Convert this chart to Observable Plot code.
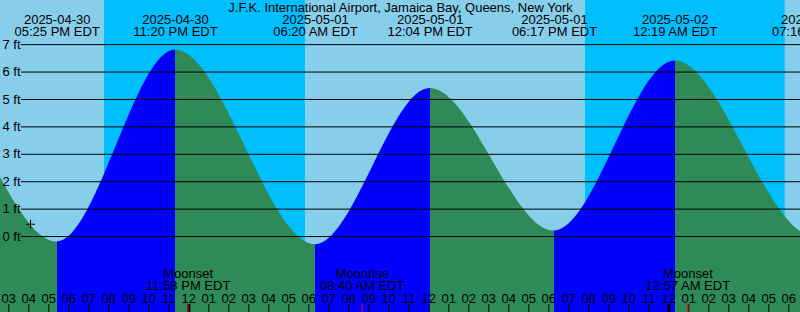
<!DOCTYPE html>
<html>
<head>
<meta charset="utf-8">
<script src="https://cdn.jsdelivr.net/npm/d3@7"></script>
<script src="https://cdn.jsdelivr.net/npm/@observablehq/plot@0.6"></script>
<style>
  html, body { margin: 0; padding: 0; background: #ffffff; }
  svg { display: block; }
</style>
</head>
<body>
<div id="chart"></div>
<script>
// ---------- data ----------
const title = "J.F.K. International Airport, Jamaica Bay, Queens, New York";

// tide extremes (local time, EDT) and heights in feet
// (first and last entries lie just outside the visible window)
const tideTimes = [
  "2025-04-30 04:55",
  "2025-04-30 10:55",
  "2025-04-30 17:25",
  "2025-04-30 23:20",
  "2025-05-01 06:20",
  "2025-05-01 12:04",
  "2025-05-01 18:17",
  "2025-05-02 00:19",
  "2025-05-02 07:16",
  "2025-05-02 13:00"
];
const tideHeights = [0.0, 5.6, -0.2, 6.8, -0.3, 5.4, 0.2, 6.4, 0.0, 5.2];

// night (sunset -> sunrise)
const nightStarts = ["2025-04-30 19:47", "2025-05-01 19:50"];
const nightEnds   = ["2025-05-01 05:50", "2025-05-02 05:49"];

// moon events
const moonNames = ["Moonset", "Moonrise", "Moonset"];
const moonTimes = ["2025-04-30 23:58", "2025-05-01 08:40", "2025-05-02 00:57"];

// current-time marker
const markerTime = "2025-04-30 16:05";
const markerHeight = 0.45;

// axis values
const feetTicks = [0, 1, 2, 3, 4, 5, 6, 7];
const viewStart = "2025-04-30 14:35";
const viewEnd   = "2025-05-02 06:35";
const heightMin = -2.77;
const heightMax = 8.61;

// ---------- styling ----------
const DAY = "#87ceeb", NIGHT = "#00bfff", RISING = "#0000ff", FALLING = "#2e8b57";
const FONT = "'Liberation Sans', Arial, Helvetica, sans-serif";
const W = 800, H = 312;

const parseTime = d3.timeParse("%Y-%m-%d %H:%M");
const start = parseTime(viewStart), end = parseTime(viewEnd);
const tides = tideTimes.map((t, i) => ({time: parseTime(t), height: tideHeights[i]}));
const nights = nightStarts.map((s, i) => ({start: parseTime(s), end: parseTime(nightEnds[i])}));
const moons = moonTimes.map((t, i) => ({time: parseTime(t), name: moonNames[i]}));
const marker = [{time: parseTime(markerTime), height: markerHeight}];
const hours = d3.timeHour.range(d3.timeHour.ceil(start), end);
const midnights = hours.filter(d => d.getHours() === 0);
const fmtDate = d3.timeFormat("%Y-%m-%d");
const fmtTime = d3.timeFormat("%I:%M %p EDT");
const fmtHour = d3.timeFormat("%I");
const lastLabel = d3.timeHour.offset(end, 1);
const tideLabels = tides.filter(d => d.time >= start && d.time <= lastLabel);

const plot = Plot.plot({
  width: W, height: H,
  margin: 0,
  x: {type: "time", domain: [start, end], axis: null},
  y: {domain: [heightMin, heightMax], axis: null},
  style: {fontFamily: FONT, background: DAY, color: "#000"},
  marks: [
    Plot.frame({fill: DAY, stroke: "none"}),
    Plot.rect(nights, {x1: "start", x2: "end", fill: NIGHT, clip: true}),
    Plot.areaY(tides, {x: "time", y1: heightMin, y2: "height", curve: "monotone-x", fill: "url(#tideFill)", clip: true}),
    Plot.ruleY(feetTicks, {y: d => d, stroke: "#000", insetLeft: 21}),
    Plot.text(feetTicks, {y: d => d, text: d => `${d} ft`, frameAnchor: "left", textAnchor: "start", lineAnchor: "middle", dx: 2, fontSize: 13, fill: "#000"}),
    Plot.dot(marker, {x: "time", y: "height", symbol: "plus", r: 3, stroke: "#000", strokeWidth: 1}),
    Plot.text([title], {text: d => d, frameAnchor: "top", lineAnchor: "top", dy: 2.3, fontSize: 13, fill: "#000"}),
    Plot.text(tideLabels, {x: "time", text: d => fmtDate(d.time) + "\n" + fmtTime(d.time), frameAnchor: "top", lineAnchor: "top", dy: 15.3, lineHeight: 0.923, fontSize: 13, fill: "#000"}),
    Plot.text(moons, {x: "time", text: d => d.name + "\n" + fmtTime(d.time), frameAnchor: "bottom", lineAnchor: "top", dy: -43.2, lineHeight: 0.923, fontSize: 13, fill: "#000"}),
    Plot.text(hours, {x: d => d, text: d => fmtHour(d), frameAnchor: "bottom", lineAnchor: "top", dy: -19.2, fontSize: 13, fill: "#000"}),
    Plot.ruleX(hours, {x: d => d, insetTop: 304, stroke: "#000"}),
    Plot.ruleX(midnights, {x: d => d, insetTop: 304, stroke: "#000", strokeWidth: 3}),
    Plot.ruleX(moons, {x: "time", insetTop: 304, stroke: "#ff0000"})
  ]
});

// hard-stop gradient: rising stretches blue, falling stretches green, placed with Plot's x scale
const xs = plot.scale("x");
const clamp01 = v => Math.max(0, Math.min(1, v));
const grad = d3.select(plot).insert("defs", ":first-child")
  .append("linearGradient")
  .attr("id", "tideFill")
  .attr("gradientUnits", "userSpaceOnUse")
  .attr("x1", 0).attr("y1", 0).attr("x2", W).attr("y2", 0);
for (let i = 0; i < tides.length - 1; i++) {
  const c = tides[i + 1].height > tides[i].height ? RISING : FALLING;
  grad.append("stop").attr("offset", clamp01(xs.apply(tides[i].time) / W)).attr("stop-color", c);
  grad.append("stop").attr("offset", clamp01(xs.apply(tides[i + 1].time) / W)).attr("stop-color", c);
}

document.getElementById("chart").appendChild(plot);
</script>
</body>
</html>
